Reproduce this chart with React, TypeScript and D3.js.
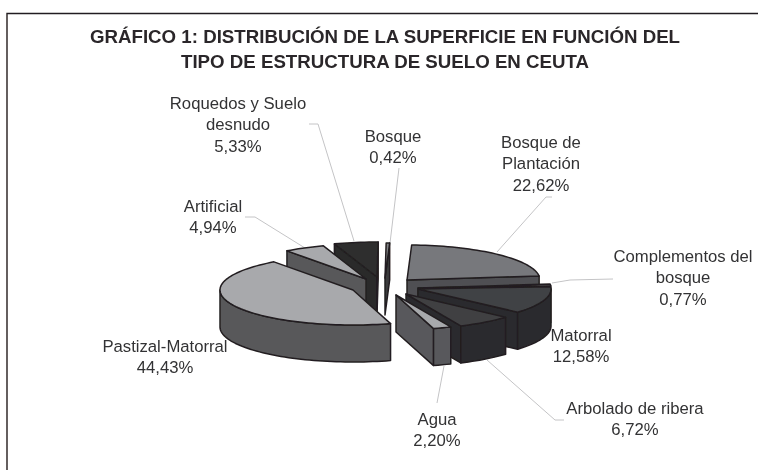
import React from "react";
import * as d3 from "d3";

const categories = ["Bosque", "Bosque de Plantación", "Complementos del bosque", "Matorral", "Arbolado de ribera", "Agua", "Pastizal-Matorral", "Artificial", "Roquedos y Suelo desnudo"];
const values = [0.42, 22.62, 0.77, 12.58, 6.72, 2.2, 44.43, 4.94, 5.33];
const valueLabels = ["0,42%", "22,62%", "0,77%", "12,58%", "6,72%", "2,20%", "44,43%", "4,94%", "5,33%"];
const titleLines = ["GRÁFICO 1: DISTRIBUCIÓN DE LA SUPERFICIE EN FUNCIÓN DEL", "TIPO DE ESTRUCTURA DE SUELO EN CEUTA"];

const W = 758, H = 470;
const CX = 385, CY = 278, RX = 133, RY = 35, DEPTH = 37;
const offsets = [[0, 0], [22, 2], [33, 10], [33, 11], [21, 16], [11, 17], [-32, 12], [-19, 1], [-8, -1]];
const topFill = ["#808285", "#77787b", "#939598", "#414244", "#404143", "#a7a9ac", "#a8a9ac", "#a8a9ac", "#2e2e2e"];
const wallFill = ["#3a3a3c", "#4f5052", "#3a3a3c", "#2b2b2d", "#2b2b2d", "#58595b", "#58585a", "#58585a", "#2a2a2a"];
const drawOrder = [8, 0, 7, 6, 1, 2, 3, 4, 5];
const labelLayout = [
  { x: 393, y: 142, lines: ["Bosque"], leader: [[399, 168], [390, 243]] },
  { x: 541, y: 148, lines: ["Bosque de", "Plantación"], leader: [[552, 197], [546, 197], [497, 252]] },
  { x: 683, y: 262, lines: ["Complementos del", "bosque"], leader: [[613, 279], [570, 280], [552, 283]] },
  { x: 581, y: 341, lines: ["Matorral"], leader: null },
  { x: 635, y: 414, lines: ["Arbolado de ribera"], leader: [[564, 420], [555, 420], [487, 360]] },
  { x: 437, y: 425, lines: ["Agua"], leader: [[437, 403], [444, 366]] },
  { x: 165, y: 352, lines: ["Pastizal-Matorral"], leader: null },
  { x: 213, y: 212, lines: ["Artificial"], leader: [[245, 217], [255, 217], [305, 248]] },
  { x: 238, y: 109, lines: ["Roquedos y Suelo", "desnudo"], leader: [[309, 124], [318, 124], [354, 241]] },
];

const total = d3.sum(values);
const cum = values.map((_, i) => d3.sum(values.slice(0, i)));
const angle = d3.scaleLinear().domain([0, total]).range([0.5, 360.5]);
const rad = (a: number) => (a * Math.PI) / 180;
const line = d3.line<[number, number]>();

export default function App() {
  const slices = drawOrder.map((i) => {
    const a0 = angle(cum[i]);
    const a1 = angle(cum[i] + values[i]);
    const ox = CX + offsets[i][0];
    const oy = CY + offsets[i][1];
    const rim = (a: number, d = 0): [number, number] => [ox + RX * Math.sin(rad(a)), oy - RY * Math.cos(rad(a)) + d];
    const arcPts = (s: number, e: number, d = 0) => {
      const n = Math.max(2, Math.ceil(Math.abs(e - s) / 2));
      return d3.range(n + 1).map((k) => rim(s + ((e - s) * k) / n, d));
    };
    const radial = (a: number) => {
      const r = rim(a);
      return line([[ox, oy], r, [r[0], r[1] + DEPTH], [ox, oy + DEPTH]]) + "Z";
    };
    const walls: string[] = [];
    // a cut face shows only when its outward normal points at the viewer
    if (Math.cos(rad(a0 - 90)) < 0) walls.push(radial(a0));
    if (Math.cos(rad(a1 + 90)) < 0) walls.push(radial(a1));
    const f0 = Math.max(a0, 90);
    const f1 = Math.min(a1, 270);
    if (f1 > f0) walls.push(line([...arcPts(f0, f1), ...arcPts(f1, f0, DEPTH)]) + "Z");
    const top = line([[ox, oy], ...arcPts(a0, a1)]) + "Z";
    return { i, walls, top };
  });

  return (
    <svg width={W} height={H} style={{ position: "absolute", left: 0, top: 0, background: "#fff" }} fontFamily="'Liberation Sans', Arial, sans-serif">
      <defs>
        <filter id="soft" x="-5%" y="-5%" width="110%" height="110%">
          <feGaussianBlur stdDeviation="0.4" />
        </filter>
      </defs>
      <g filter="url(#soft)">
        <path d="M7 470V13.5H758" fill="none" stroke="#231f20" strokeWidth={1.4} />
        {titleLines.map((t, k) => (
          <text key={t} x={385} y={42.5 + k * 25} textAnchor="middle" fontSize={18.7} fontWeight="bold" fill="#2b2829">{t}</text>
        ))}
        {labelLayout.map((l) => l.leader && (
          <path key={l.lines[0]} d={line(l.leader as [number, number][]) as string} fill="none" stroke="#c4c4c6" strokeWidth={1} />
        ))}
        {slices.map((s) => (
          <g key={categories[s.i]} stroke="#231f20" strokeWidth={1.5} strokeLinejoin="round">
            {s.walls.map((d, k) => <path key={k} d={d} fill={wallFill[s.i]} />)}
            <path d={s.top} fill={topFill[s.i]} />
          </g>
        ))}
        {labelLayout.map((l, i) => (
          <text key={l.lines[0]} textAnchor="middle" fontSize={16.7} fill="#333334">
            {[...l.lines, valueLabels[i]].map((t, k) => (
              <tspan key={k} x={l.x} y={l.y + k * 21.3}>{t}</tspan>
            ))}
          </text>
        ))}
      </g>
    </svg>
  );
}
